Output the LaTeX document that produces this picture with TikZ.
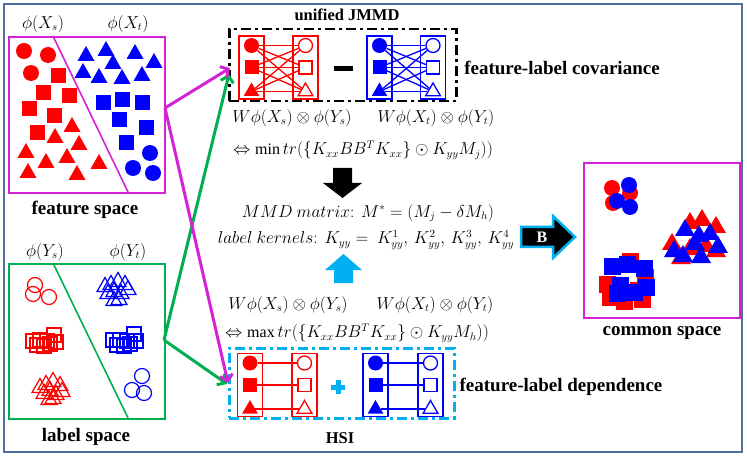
\documentclass[tikz,border=0pt]{standalone}
\usepackage{fontspec}
\setmainfont{Liberation Serif}[BoldFont={Liberation Serif Bold}]
\usetikzlibrary{shapes.geometric,arrows.meta}
\definecolor{mag}{RGB}{214,34,214}
\definecolor{grn}{RGB}{0,176,80}
\definecolor{cyn}{RGB}{0,176,240}
\definecolor{frm}{RGB}{79,110,155}
\newcommand\FT[3]{\fill[#1] (#2,#3-9) -- ++(8.5,15) -- ++(-17,0) -- cycle;}
\newcommand\BT[3]{\fill[#1] (#2,#3-10) -- ++(10,17) -- ++(-20,0) -- cycle;}
\newcommand\OT[3]{\draw[#1,line width=1.2,line join=miter] (#2,#3-8.5) -- ++(8,14) -- ++(-16,0) -- cycle;}
\newcommand\FS[3]{\fill[#1] (#2-7.5,#3-7.5) rectangle ++(15,15);}
\newcommand\BS[3]{\fill[#1] (#2-8.5,#3-8.5) rectangle ++(17,17);}
\newcommand\OS[3]{\draw[#1,line width=1.2] (#2-7,#3-7) rectangle ++(14,14);}
\newcommand\FC[3]{\fill[#1] (#2,#3) circle[radius=8];}
\newcommand\OC[3]{\draw[#1,line width=1.2] (#2,#3) circle[radius=7.5];}
\tikzset{
 fc/.style={circle, fill=#1, inner sep=0, minimum size=15},
 oc/.style={circle, draw=#1, fill=white, line width=1.3, inner sep=0, minimum size=14},
 fsq/.style={rectangle, fill=#1, inner sep=0, minimum size=14},
 osq/.style={rectangle, draw=#1, fill=white, line width=1.3, inner sep=0, minimum size=13},
 ftri/.style={regular polygon, regular polygon sides=3, fill=#1, inner sep=0, minimum size=18},
 otri/.style={regular polygon, regular polygon sides=3, draw=#1, fill=white, line width=1.3, inner sep=0, minimum size=17},
 grpbox/.style={draw=#1, line width=1.6, inner sep=0, minimum width=25, minimum height=63},
 bt/.style={font=\bfseries\fontsize{19}{22}\selectfont, inner sep=0},
 bts/.style={font=\bfseries\fontsize{16.5}{20}\selectfont, inner sep=0},
 mt/.style={font=\fontsize{16}{19}\selectfont, inner sep=0},
 spacebox/.style={draw=#1, line width=1.6, inner sep=0, anchor=north west},
 dashbox/.style={draw=#1, line width=2.5, dash pattern=on 10pt off 4pt on 3pt off 4pt, inner sep=0, anchor=north west},
 conn/.style={draw=#1, line width=3, -{Straight Barb[length=6pt,width=13pt,line width=3pt]}},
}
\newcommand\grp[6]{%
 \node[grpbox=#2] (#1L) at (#3,#5) {};
 \node[grpbox=#2] (#1R) at (#4,#5) {};
 \node[fc=#2] (#1a) at (#3,#5-22) {};
 \node[fsq=#2] (#1b) at (#3,#5) {};
 \node[ftri=#2] (#1c) at (#3,#5+24) {};
 \node[oc=#2] (#1d) at (#4,#5-22) {};
 \node[osq=#2] (#1e) at (#4,#5) {};
 \node[otri=#2] (#1f) at (#4,#5+24) {};
 \ifnum#6=1
  \foreach \p in {a,b,c}{\foreach \q in {d,e,f}{\draw[#2,line width=1.3] (#1\p) -- (#1\q);}}
 \else
  \draw[#2,line width=1.3] (#1a) -- (#1d);
  \draw[#2,line width=1.3] (#1b) -- (#1e);
  \draw[#2,line width=1.3] (#1c) -- (#1f);
 \fi
}
\begin{document}
\begin{tikzpicture}[x=1pt,y=-1pt]
\useasboundingbox (0,0) rectangle (747,457);
\draw[frm,line width=2.5] (4,4) rectangle (742,452);

% feature space
\node[spacebox=mag, minimum width=156, minimum height=156] (fs) at (8,36) {};
\draw[mag,line width=1.6] (53,36) -- (128,192);
\node[mt] (fxs) at (43,24) {$\phi(X_s)$};
\node[mt] (fxt) at (128,24) {$\phi(X_t)$};
\node[bt] (fst) at (85,210) {feature space};
\foreach \x/\y in {24/51,48/55,31/73} {\FC{red}{\x}{\y}}
\foreach \x/\y in {58/76,43/93,69/96,29/109,54/116,37/133} {\FS{red}{\x}{\y}}
\foreach \x/\y in {72/126,55/137,79/144,26/152,46/162,67/157,28/172,77/174,99/163} {\FT{red}{\x}{\y}}
\foreach \x/\y in {86/55,106/50,135/53,154/62,113/63,83/72,99/77,122/78,142/75} {\FT{blue}{\x}{\y}}
\foreach \x/\y in {103/103,122/100,142/103,119/120,146/128,126/143} {\FS{blue}{\x}{\y}}
\foreach \x/\y in {150/153,133/168,153/173} {\FC{blue}{\x}{\y}}

% label space
\node[spacebox=grn, minimum width=156, minimum height=155] (ls) at (8,263) {};
\draw[grn,line width=1.6] (53,263) -- (128,418);
\node[mt] (lys) at (45,252) {$\phi(Y_s)$};
\node[mt] (lyt) at (128,252) {$\phi(Y_t)$};
\node[bt] (lst) at (86,437) {label space};
\foreach \x/\y in {35/285,33/294,49/297} {\OC{red}{\x}{\y}}
\foreach \x/\y in {33/341,37/345,40/340,44/346,47/341,54/335,56/342,50/344} {\OS{red}{\x}{\y}}
\foreach \x/\y in {40/387,46/384,53/381,60/385,62/391,44/393,50/390,56/394,49/399,53/398} {\OT{red}{\x}{\y}}
\foreach \x/\y in {105/286,111/284,118/281,125/284,128/289,108/293,114/291,121/293,114/300,119/299} {\OT{blue}{\x}{\y}}
\foreach \x/\y in {113/340,117/345,120/340,124/346,127/341,134/334,136/341,130/344} {\OS{blue}{\x}{\y}}
\foreach \x/\y in {142/376,132/390,144/393} {\OC{blue}{\x}{\y}}

% unified JMMD
\node[dashbox=black, minimum width=227, minimum height=72] (jm) at (228,28) {};
\node[bts] (jmt) at (347,15) {unified JMMD};
\grp{r}{red}{251.5}{305.5}{67.5}{1}
\grp{b}{blue}{379.5}{433}{67.5}{1}
\fill (334,66) rectangle (353,71);
\node[bt] (cov) at (562,68) {feature-label covariance};
\node[mt] (f1) at (292,118) {$W\phi(X_s)\otimes\phi(Y_s)$};
\node[mt] (f2) at (436,118) {$W\phi(X_t)\otimes\phi(Y_t)$};
\node[mt] (f3) at (363,150) {$\Leftrightarrow \min tr(\{K_{xx}BB^TK_{xx}\}\odot K_{yy}M_j))$};

% center
\fill (333,168) -- (352,168) -- (352,183) -- (362,183) -- (342.5,198) -- (323,183) -- (333,183) -- cycle;
\node[mt] (f4) at (368,213) {$MMD\ matrix\colon\ M^*=(M_j-\delta M_h)$};
\node[mt] (f5) at (366,240) {$label\ kernels\colon\ K_{yy}=\ K_{yy}^1,\,K_{yy}^2,\,K_{yy}^3,\,K_{yy}^4$};
\fill[cyn] (334,283) -- (353,283) -- (353,270) -- (362,270) -- (343.5,254) -- (325,270) -- (334,270) -- cycle;

% HSI
\node[mt] (f6) at (288,305) {$W\phi(X_s)\otimes\phi(Y_s)$};
\node[mt] (f7) at (435,305) {$W\phi(X_t)\otimes\phi(Y_t)$};
\node[mt] (f8) at (357,333) {$\Leftrightarrow \max tr(\{K_{xx}BB^TK_{xx}\}\odot K_{yy}M_h))$};
\node[dashbox=cyn, minimum width=225, minimum height=70] (hs) at (228,347) {};
\node[bts] (hst) at (340,438) {HSI};
\grp{p}{red}{250}{304.5}{385}{0}
\grp{q}{blue}{375.5}{430.5}{385}{0}
\fill[cyn] (331,384.5) rectangle (345,389.5);
\fill[cyn] (335.5,380) rectangle (340.5,394);
\node[bt] (dep) at (561,387) {feature-label dependence};

% connectors
\coordinate (fo) at (165,108);
\coordinate (lo) at (164,340);
\coordinate (jin1) at (230,68);
\coordinate (jin2) at (229,74);
\coordinate (hin1) at (228,383);
\coordinate (hin2) at (227,384);
\draw[conn=grn] (lo) -- (jin2);
\draw[conn=grn] (lo) -- (hin2);
\draw[conn=mag] (fo) -- (jin1);
\draw[conn=mag] (fo) -- (hin1);

% B arrow
\draw[cyn,line width=2.5,fill=black] (521,227) -- (553,227) -- (553,216) -- (575,237) -- (553,258) -- (553,247) -- (521,247) -- cycle;
\node[font=\bfseries\fontsize{16}{19}\selectfont, text=white, inner sep=0] (bl) at (542,237) {B};

% common space
\node[spacebox=mag, minimum width=156, minimum height=155] (cs) at (583,162) {};
\node[bt] (cst) at (662,333) {common space};
\foreach \x/\y in {612/188,613/203,630/193} {\FC{red}{\x}{\y}}
\foreach \x/\y in {629/185,617/201,630/207} {\FC{blue}{\x}{\y}}
\foreach \x/\y in {630/262,645/277,607/284,638/290,610/297,624/301,642/299} {\BS{red}{\x}{\y}}
\foreach \x/\y in {612/266,627/264,644/268,620/285,634/292,646/287,617/293} {\BS{blue}{\x}{\y}}
\foreach \x/\y in {690/222,702/219,716/226,672/243,690/248,706/245,681/257,716/250} {\BT{red}{\x}{\y}}
\foreach \x/\y in {685/229,710/233,674/250,695/243,701/256,718/246,683/255,699/235} {\BT{blue}{\x}{\y}}
\end{tikzpicture}
\end{document}
